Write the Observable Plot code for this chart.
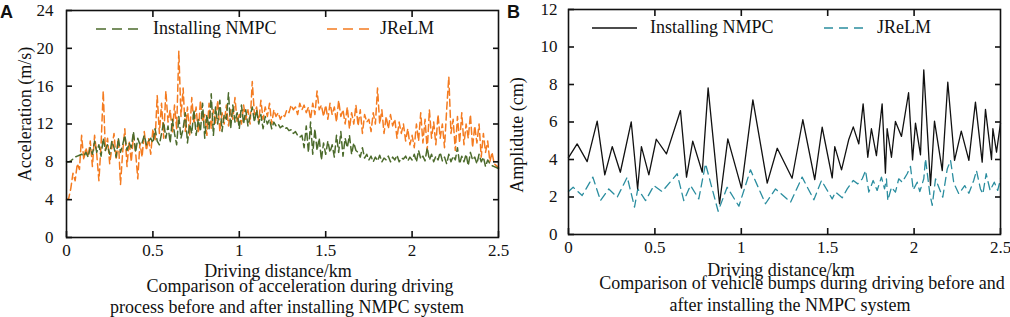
<!DOCTYPE html>
<html><head><meta charset="utf-8">
<script src="https://cdn.jsdelivr.net/npm/d3@7"></script>
<script src="https://cdn.jsdelivr.net/npm/@observablehq/plot@0.6"></script>
<style>
html,body{margin:0;padding:0;background:#fff;}
body{width:1010px;height:317px;overflow:hidden;position:relative;font-family:"Liberation Serif","Times New Roman",serif;color:#111;}
.abs{position:absolute;white-space:nowrap;}
.t18{font-size:18px;line-height:20px;}
.letter{font-family:"Liberation Sans",Arial,sans-serif;font-weight:bold;font-size:18px;line-height:18px;}
.rot{transform:rotate(-90deg);transform-origin:50% 50%;text-align:center;width:200px;}
.ctr{text-align:center;width:500px;}
</style></head>
<body>
<div id="panelA" class="abs" style="left:0;top:0"></div>
<div id="panelB" class="abs" style="left:505px;top:0"></div>
<svg id="legendLines" class="abs" style="left:0;top:0" width="1010" height="317"></svg>
<script>
// ---------- Panel A: acceleration ----------
const accelStepKm = 0.0125;
const accelNmpc = [
8.0,8.0,8.1,8.3,8.5,8.6,8.7,8.8,8.6,9.0,
8.5,9.5,8.8,10.2,9.0,9.8,8.6,10.5,9.2,9.8,
8.8,10.2,9.5,8.5,10.5,9.0,9.8,10.8,9.2,10.0,
9.5,11.2,9.0,10.5,9.8,10.0,10.8,9.8,10.2,10.5,
10.0,11.5,10.2,9.8,11.0,12.2,10.5,11.8,10.0,12.5,
11.0,9.8,12.8,10.5,11.5,13.2,10.0,12.0,11.0,13.5,
10.8,12.5,11.2,14.2,10.5,13.0,11.5,15.2,10.8,13.8,
12.0,14.5,11.2,13.0,12.5,15.3,11.5,14.0,12.2,13.2,
11.5,14.0,12.0,13.5,11.8,12.8,13.8,12.2,13.5,12.0,
13.0,11.5,12.8,12.0,12.5,11.5,12.2,11.8,12.0,11.6,
11.8,11.5,11.6,11.3,11.4,11.0,11.2,10.8,10.6,10.8,
9.5,11.8,9.0,12.2,8.8,11.5,9.2,10.5,8.2,10.0,
8.8,10.2,9.0,9.8,8.5,10.8,9.0,11.2,8.6,10.5,
9.5,10.8,8.8,10.0,9.2,9.0,8.5,9.5,8.4,8.8,
8.2,8.6,8.0,8.5,8.1,8.7,8.0,8.4,8.2,8.6,
8.0,8.5,8.2,8.7,8.0,8.4,8.3,8.6,8.1,8.5,
8.2,8.8,8.0,9.2,8.3,8.6,8.1,9.5,8.2,8.8,
8.0,8.6,8.2,9.0,8.1,8.5,7.8,8.8,8.0,8.6,
8.2,9.5,7.8,8.6,8.0,8.8,7.6,9.0,8.2,8.5,
7.8,8.8,8.0,8.5,7.5,8.2,7.8,7.6,7.5,7.4,7.3
];
const accelJrelm = [
4.0,4.1,5.2,6.8,6.0,7.8,7.2,10.8,8.2,9.5,
8.5,10.2,7.5,10.8,8.8,6.0,9.8,15.5,9.2,10.5,
7.8,9.5,11.0,8.2,10.5,5.6,9.0,11.5,7.5,10.2,
8.0,10.8,9.0,6.2,10.0,8.5,11.2,9.2,10.5,8.8,
11.5,10.2,15.0,11.0,14.2,10.5,15.5,12.2,13.5,11.0,
14.0,11.5,19.7,12.8,15.8,11.2,13.8,10.8,14.8,12.0,
13.8,11.0,14.5,12.2,13.0,10.8,14.2,11.5,13.5,12.0,
14.5,11.2,13.2,12.0,14.0,11.8,13.5,12.5,14.8,12.2,
13.0,12.0,14.0,12.5,13.5,12.0,16.5,13.0,13.8,12.2,
14.5,12.5,13.8,12.8,14.2,12.0,13.5,12.8,13.2,12.5,
13.0,12.8,13.5,13.2,14.0,13.5,13.8,13.0,14.2,13.5,
14.0,13.2,13.8,12.5,14.2,13.0,15.5,13.5,14.0,12.8,
14.0,12.5,14.2,13.0,13.8,12.2,14.5,12.8,13.5,12.0,
13.8,11.5,13.2,12.0,14.0,11.8,13.5,11.0,13.0,12.2,
12.5,11.2,13.2,12.0,15.8,12.0,13.5,11.0,12.8,11.5,
13.0,11.8,12.5,10.5,12.2,11.0,12.0,10.2,11.5,9.8,
10.8,9.5,12.0,10.2,13.2,10.0,12.5,9.2,13.5,10.5,
12.2,9.8,13.0,10.5,12.0,9.5,13.5,17.0,11.0,12.5,
9.2,12.8,10.0,13.2,9.8,12.0,10.5,13.0,9.5,11.8,
10.0,12.0,8.5,11.0,9.0,10.2,8.0,9.0,7.8,7.6,7.4
];
const accelXTicks = [0, 0.5, 1, 1.5, 2, 2.5];
const accelYTicks = [0, 4, 8, 12, 16, 20, 24];

// ---------- Panel B: bump amplitude ----------
const bumpNmpcKm = [0,0.05,0.108,0.166,0.21,0.253,0.30,0.363,0.40,0.422,0.465,0.508,0.567,0.648,0.683,0.719,0.774,0.808,0.874,0.922,1.001,1.067,1.150,1.208,1.294,1.356,1.425,1.468,1.526,1.541,1.580,1.622,1.648,1.680,1.705,1.732,1.753,1.782,1.815,1.834,1.844,1.869,1.892,1.927,1.968,1.991,2.008,2.037,2.056,2.095,2.118,2.163,2.195,2.234,2.273,2.317,2.355,2.394,2.413,2.448,2.456,2.477,2.5];
const bumpNmpcAmp = [4.1,4.83,3.89,6.05,3.18,4.69,3.32,6.01,2.43,4.69,3.18,5.08,4.30,6.61,3.06,4.98,3.32,7.82,1.64,5.10,2.47,7.18,2.74,4.60,3.0,6.12,2.93,5.72,3.02,4.69,3.45,5.07,5.74,4.83,6.97,4.12,5.64,4.21,6.97,3.27,5.64,4.12,6.03,5.23,7.56,3.98,5.94,4.25,8.78,2.61,6.05,3.41,8.12,3.95,5.51,3.95,7.06,3.86,6.67,4.0,5.64,4.39,5.94];
const bumpJrelmKm = [0,0.027,0.079,0.141,0.185,0.233,0.282,0.340,0.382,0.401,0.446,0.494,0.542,0.629,0.667,0.706,0.754,0.793,0.866,0.918,0.986,1.053,1.140,1.198,1.227,1.285,1.352,1.420,1.464,1.526,1.545,1.584,1.613,1.648,1.674,1.700,1.719,1.738,1.763,1.786,1.811,1.829,1.840,1.848,1.869,1.892,1.911,1.931,1.960,1.979,1.995,2.018,2.033,2.056,2.066,2.091,2.105,2.124,2.143,2.166,2.192,2.211,2.230,2.259,2.293,2.317,2.345,2.361,2.384,2.398,2.417,2.440,2.464,2.484,2.5];
const bumpJrelmAmp = [2.29,2.52,2.08,3.06,1.81,2.43,1.99,3.06,1.46,2.43,1.81,2.61,2.29,3.24,1.81,2.61,1.90,3.77,1.24,2.52,1.51,3.45,1.64,2.43,2.20,1.72,3.06,1.85,2.88,1.90,2.26,1.96,2.43,2.88,2.70,2.97,3.41,2.26,2.88,2.35,3.06,2.43,2.97,1.81,2.52,2.26,2.97,2.79,3.24,3.63,2.38,2.79,2.29,2.97,4.04,2.17,1.55,2.97,2.52,1.99,3.50,3.95,2.74,2.17,2.61,2.20,2.88,3.41,2.43,2.17,3.24,2.35,2.79,2.35,2.97];
const bumpXTicks = [0, 0.5, 1, 1.5, 2, 2.5];
const bumpYTicks = [0, 2, 4, 6, 8, 10, 12];

const colors = {nmpcA: "#4c6b2c", jrelmA: "#f47b20", nmpcB: "#111111", jrelmB: "#2a8d9f"};
const dashA = "7,4";
const dashB = "8,5";

const accelRows = (vals) => vals.map((v, i) => ({km: i * accelStepKm, v}));
const pairRows = (xs, ys) => xs.map((x, i) => ({km: x, v: ys[i]}));

const serif = '"Liberation Serif","Times New Roman",serif';

function axes(xTicks, yTicks, yPad) {
  const fmt = d => String(d);
  const blank = () => "";
  const opt = {fontFamily: serif, fontSize: 17, strokeWidth: 1.6, label: null};
  return [
    Plot.frame({stroke: "#111", strokeWidth: 1.6}),
    Plot.axisX({anchor: "bottom", ticks: xTicks, tickSize: -6, tickPadding: 12, tickFormat: fmt, ...opt}),
    Plot.axisX({anchor: "top", ticks: xTicks.slice(1, -1), tickSize: -6, tickPadding: 0, tickFormat: blank, ...opt}),
    Plot.axisY({anchor: "left", ticks: yTicks, tickSize: -6, tickPadding: yPad, tickFormat: fmt, ...opt}),
    Plot.axisY({anchor: "right", ticks: yTicks.slice(1, -1), tickSize: -6, tickPadding: 0, tickFormat: blank, ...opt})
  ];
}

const common = {
  width: 505, height: 262,
  style: {fontFamily: serif, fontSize: "17px", color: "#111", background: "transparent", overflow: "visible"}
};

const plotA = Plot.plot({
  ...common,
  marginLeft: 66, marginRight: 7, marginTop: 10, marginBottom: 25,
  x: {domain: [0, 2.5], label: null},
  y: {domain: [0, 24], label: null},
  marks: [
    Plot.line(accelRows(accelJrelm), {x: "km", y: "v", stroke: colors.jrelmA, strokeWidth: 1.5, strokeDasharray: dashA}),
    Plot.line(accelRows(accelNmpc), {x: "km", y: "v", stroke: colors.nmpcA, strokeWidth: 1.5, strokeDasharray: dashA}),
    ...axes(accelXTicks, accelYTicks, 19)
  ]
});
document.getElementById("panelA").append(plotA);

const plotB = Plot.plot({
  ...common,
  marginLeft: 63, marginRight: 10, marginTop: 9, marginBottom: 28,
  x: {domain: [0, 2.5], label: null},
  y: {domain: [0, 12], label: null},
  marks: [
    Plot.line(pairRows(bumpJrelmKm, bumpJrelmAmp), {x: "km", y: "v", stroke: colors.jrelmB, strokeWidth: 1.3, strokeDasharray: dashB}),
    Plot.line(pairRows(bumpNmpcKm, bumpNmpcAmp), {x: "km", y: "v", stroke: colors.nmpcB, strokeWidth: 1.3}),
    ...axes(bumpXTicks, bumpYTicks, 17)
  ]
});
document.getElementById("panelB").append(plotB);

// ---------- Legend samples ----------
const legendSvg = d3.select("#legendLines");
const legendItems = [
  {x1: 96, x2: 138, y: 29, color: colors.nmpcA, dash: "10,6", w: 1.6},
  {x1: 327, x2: 370, y: 29, color: colors.jrelmA, dash: "10,6", w: 1.6},
  {x1: 592, x2: 637, y: 28, color: colors.nmpcB, dash: null, w: 1.3},
  {x1: 824, x2: 867, y: 28, color: colors.jrelmB, dash: "9,6", w: 1.3}
];
legendItems.forEach(d => {
  legendSvg.append("line").attr("x1", d.x1).attr("x2", d.x2).attr("y1", d.y).attr("y2", d.y)
    .attr("stroke", d.color).attr("stroke-width", d.w).attr("stroke-dasharray", d.dash);
});
</script>

<div class="abs letter" style="left:0px;top:3px">A</div>
<div class="abs letter" style="left:507px;top:3px">B</div>

<div class="abs t18" style="left:153px;top:18px">Installing NMPC</div>
<div class="abs t18" style="left:380px;top:18px">JReLM</div>
<div class="abs t18" style="left:650px;top:17px">Installing NMPC</div>
<div class="abs t18" style="left:877px;top:17px">JReLM</div>

<div class="abs t18 rot" style="left:-75px;top:104px">Acceleration (m/s)</div>
<div class="abs t18 rot" style="left:417px;top:125px">Amplidute (cm)</div>

<div class="abs t18 ctr" style="left:28px;top:261px">Driving distance/km</div>
<div class="abs t18 ctr" style="left:50px;top:276px">Comparison of acceleration during driving</div>
<div class="abs t18 ctr" style="left:37px;top:297px">process before and after installing NMPC system</div>

<div class="abs t18 ctr" style="left:531px;top:260px">Driving distance/km</div>
<div class="abs t18 ctr" style="left:552px;top:273px">Comparison of vehicle bumps during driving before and</div>
<div class="abs t18 ctr" style="left:540px;top:295px">after installing the NMPC system</div>
</body></html>
